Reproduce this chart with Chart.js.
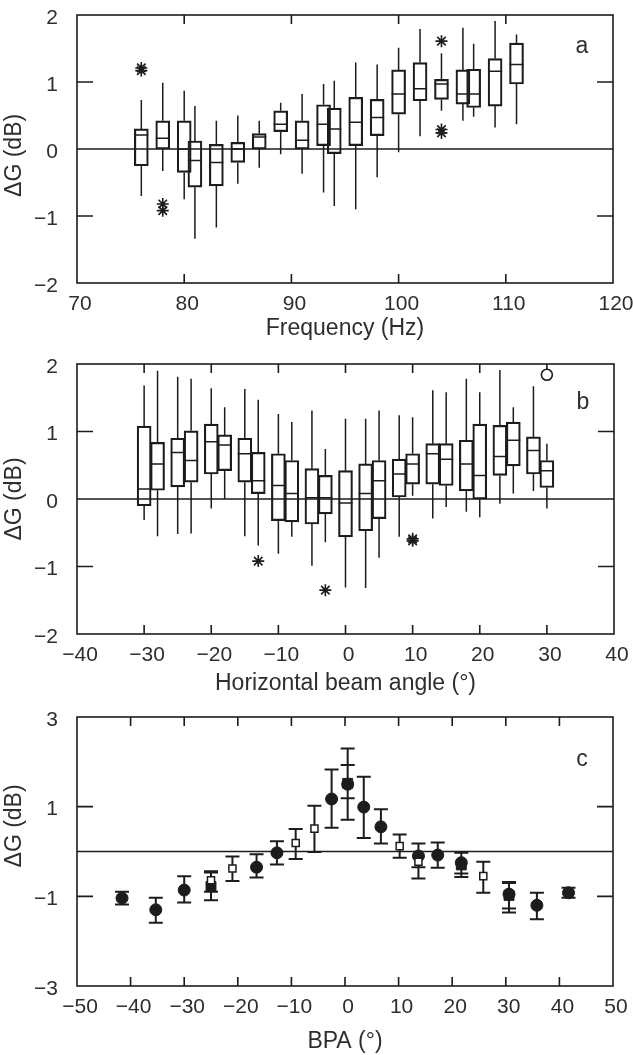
<!DOCTYPE html>
<html>
<head>
<meta charset="utf-8">
<script src="https://cdn.jsdelivr.net/npm/chart.js@4.4.0/dist/chart.umd.min.js"></script>
<style>
  body { margin: 0; background: #fff; }
  #wrap { position: relative; width: 633px; height: 1055px; }
  canvas { position: absolute; left: 0; }
</style>
</head>
<body>
<div id="wrap">
  <canvas id="chartA" width="633" height="342" style="top:0px"></canvas>
  <canvas id="chartB" width="633" height="355" style="top:342px"></canvas>
  <canvas id="chartC" width="633" height="358" style="top:697px"></canvas>
</div>
<script>
// ---- panel a: box plots vs frequency ----
const freqA = [76, 78, 80, 81, 83, 85, 87, 89, 91, 93, 94, 96, 98, 100, 102, 104, 106, 107, 109, 111];
const minA = [-0.70, -0.33, -0.75, -1.34, -1.17, -0.52, -0.28, -0.08, -0.37, -0.65, -0.85, -0.90, -0.42, -0.05, 0.19, 0.57, 0.42, 0.48, 0.32, 0.37];
const q1A = [-0.25, 0.00, -0.35, -0.57, -0.55, -0.20, 0.00, 0.26, 0.00, 0.05, -0.07, 0.05, 0.20, 0.52, 0.72, 0.74, 0.67, 0.62, 0.64, 0.97];
const medA = [0.21, 0.16, 0.00, -0.17, -0.20, 0.00, 0.18, 0.37, 0.13, 0.37, 0.30, 0.40, 0.47, 0.82, 0.90, 0.97, 0.82, 0.82, 1.16, 1.26];
const q3A = [0.30, 0.42, 0.42, 0.12, 0.07, 0.10, 0.23, 0.57, 0.42, 0.66, 0.61, 0.77, 0.74, 1.18, 1.29, 1.04, 1.18, 1.19, 1.35, 1.58];
const maxA = [0.73, 0.99, 0.87, 0.64, 0.42, 0.50, 0.42, 0.69, 0.82, 0.97, 1.02, 1.29, 1.26, 1.51, 1.79, 1.43, 1.81, 1.57, 1.91, 1.71];
const starXA = [76, 76, 78, 78, 104, 104, 104];
const starYA = [1.17, 1.21, -0.82, -0.92, 1.61, 0.29, 0.24];

// ---- panel b: box plots vs horizontal beam angle ----
const angB = [-30, -28, -25, -23, -20, -18, -15, -13, -10, -8, -5, -3, 0, 3, 5, 8, 10, 13, 15, 18, 20, 23, 25, 28, 30];
const minB = [-0.31, -0.55, -0.52, -0.51, -0.14, 0.00, -0.55, -0.69, -0.81, -0.56, -0.99, -0.64, -1.31, -1.32, -0.87, -0.56, 0.05, -0.29, -0.12, -0.19, -0.27, -0.07, 0.08, 0.12, -0.14];
const q1B = [-0.10, 0.13, 0.18, 0.25, 0.37, 0.42, 0.25, 0.08, -0.32, -0.34, -0.37, -0.22, -0.56, -0.47, -0.29, 0.03, 0.22, 0.22, 0.20, 0.12, 0.00, 0.35, 0.49, 0.37, 0.17];
const medB = [0.15, 0.52, 0.69, 0.57, 0.85, 0.80, 0.67, 0.27, 0.20, 0.08, 0.02, 0.02, -0.06, 0.08, 0.27, 0.37, 0.52, 0.67, 0.59, 0.52, 0.35, 0.63, 0.87, 0.72, 0.42];
const q3B = [1.08, 0.84, 0.90, 1.01, 1.11, 0.95, 0.90, 0.69, 0.67, 0.57, 0.45, 0.35, 0.42, 0.52, 0.57, 0.59, 0.67, 0.82, 0.82, 0.87, 1.11, 1.09, 1.14, 0.92, 0.57];
const maxB = [1.68, 1.90, 1.81, 1.78, 1.64, 1.36, 1.63, 1.47, 1.26, 1.14, 1.31, 0.74, 1.19, 1.19, 1.31, 1.24, 1.21, 1.61, 1.58, 1.78, 1.58, 1.91, 1.36, 1.67, 0.82];
const starXB = [-13, -3, 10, 10];
const starYB = [-0.92, -1.35, -0.59, -0.62];
const ringXB = [30];
const ringYB = [1.84];

// ---- panel c: means with error bars vs BPA ----
const dotX = [-41.6, -35.3, -30.0, -16.5, -12.7, -2.5, 0.5, 3.5, 6.7, 13.7, 17.3, 21.7, 30.6, 35.8, 41.7];
const dotY = [-1.04, -1.30, -0.86, -0.35, -0.03, 1.17, 1.50, 0.99, 0.55, -0.10, -0.08, -0.25, -0.95, -1.20, -0.92];
const dotHi = [-0.90, -1.03, -0.55, -0.06, 0.23, 1.83, 2.30, 1.67, 0.94, 0.18, 0.20, -0.03, -0.68, -0.92, -0.81];
const dotLo = [-1.18, -1.59, -1.14, -0.58, -0.29, 0.53, 0.71, 0.30, 0.18, -0.35, -0.36, -0.49, -1.27, -1.51, -1.03];
const blockX = [-25.0, 0.5, 21.7, 30.6];
const blockY = [-0.78, 1.52, -0.30, -0.98];
const blockHi = [-0.47, 1.93, -0.03, -0.70];
const blockLo = [-1.09, 1.19, -0.57, -1.36];
const openX = [-25.0, -21.0, -9.2, -5.7, 10.2, 13.7, 25.8];
const openY = [-0.64, -0.38, 0.19, 0.51, 0.12, -0.23, -0.55];
const openHi = [-0.44, -0.11, 0.50, 1.02, 0.38, 0.18, -0.23];
const openLo = [-0.90, -0.66, -0.17, -0.01, -0.14, -0.60, -0.92];

const INK = '#1c1c1c';
const TEXT = '#2e2e2e';
const FONT = '"Liberation Sans", Arial, Helvetica, sans-serif';

Chart.defaults.font.family = FONT;
Chart.defaults.color = TEXT;

const fmt = v => (v < 0 ? '\u2212' + Math.abs(v) : String(v));
const pts = (xs, ys) => xs.map((x, i) => ({ x: x, y: ys[i] }));

// frame, inward ticks, zero line and panel letter
const deco = {
  id: 'deco',
  beforeDatasetsDraw(chart, args, opts) {
    const { ctx, chartArea: a, scales: { x, y } } = chart;
    ctx.save();
    ctx.strokeStyle = INK;
    ctx.lineWidth = 1.6;
    ctx.strokeRect(a.left, a.top, a.right - a.left, a.bottom - a.top);
    ctx.beginPath();
    x.ticks.forEach(t => {
      if (t.value <= x.min || t.value >= x.max) return;
      const px = x.getPixelForValue(t.value);
      ctx.moveTo(px, a.bottom); ctx.lineTo(px, a.bottom - 9);
      ctx.moveTo(px, a.top); ctx.lineTo(px, a.top + 9);
    });
    y.ticks.forEach(t => {
      if (t.value <= y.min || t.value >= y.max) return;
      const py = y.getPixelForValue(t.value);
      ctx.moveTo(a.left, py); ctx.lineTo(a.left + 16, py);
      ctx.moveTo(a.right, py); ctx.lineTo(a.right - 16, py);
    });
    const z = y.getPixelForValue(0);
    ctx.moveTo(a.left, z); ctx.lineTo(a.right, z);
    ctx.stroke();
    ctx.fillStyle = TEXT;
    ctx.font = '23px ' + FONT;
    ctx.textAlign = 'center';
    ctx.textBaseline = 'middle';
    ctx.fillText(opts.letter, a.right - 31, a.top + opts.letterDy);
    ctx.restore();
  }
};

// whiskers and medians on top of the floating bars
const whiskers = {
  id: 'whiskers',
  afterDatasetsDraw(chart, args, opts) {
    if (!opts.lo) return;
    const { ctx, scales: { y } } = chart;
    const bars = chart.getDatasetMeta(0).data;
    ctx.save();
    ctx.strokeStyle = INK;
    ctx.lineWidth = 1.5;
    ctx.beginPath();
    bars.forEach((bar, i) => {
      const px = bar.x, w = bar.width / 2;
      ctx.moveTo(px, y.getPixelForValue(opts.q3[i])); ctx.lineTo(px, y.getPixelForValue(opts.hi[i]));
      ctx.moveTo(px, y.getPixelForValue(opts.q1[i])); ctx.lineTo(px, y.getPixelForValue(opts.lo[i]));
      const pm = y.getPixelForValue(opts.med[i]);
      ctx.moveTo(px - w, pm); ctx.lineTo(px + w, pm);
    });
    ctx.stroke();
    ctx.restore();
  }
};

// error bars for panel c
const errorBars = {
  id: 'errorBars',
  beforeDatasetsDraw(chart) {
    const { ctx, scales: { x, y } } = chart;
    ctx.save();
    ctx.strokeStyle = INK;
    ctx.lineWidth = 2;
    ctx.beginPath();
    chart.data.datasets.forEach(ds => {
      if (!ds.errHi) return;
      ds.data.forEach((p, i) => {
        const px = x.getPixelForValue(p.x);
        const ph = y.getPixelForValue(ds.errHi[i]);
        const pl = y.getPixelForValue(ds.errLo[i]);
        ctx.moveTo(px, ph); ctx.lineTo(px, pl);
        ctx.moveTo(px - 7, ph); ctx.lineTo(px + 7, ph);
        ctx.moveTo(px - 7, pl); ctx.lineTo(px + 7, pl);
      });
    });
    ctx.stroke();
    ctx.restore();
  }
};

function axes(xmin, xmax, xstep, xtitle, ymin, ymax, ystep, xHeight, ytitle) {
  return {
    x: {
      type: 'linear', min: xmin, max: xmax, offset: false,
      grid: { display: false }, border: { display: false },
      ticks: { stepSize: xstep, padding: 1, labelOffset: 3, font: { size: 21 }, callback: fmt, maxRotation: 0 },
      title: { display: true, text: xtitle, font: { size: 23 }, padding: { top: 0, bottom: 0 } },
      afterFit: s => { s.height = xHeight; s.paddingLeft = 0; s.paddingRight = 0; }
    },
    y: {
      type: 'linear', min: ymin, max: ymax,
      grid: { display: false }, border: { display: false },
      ticks: { stepSize: ystep, padding: 11, labelOffset: 3, font: { size: 21 }, callback: fmt },
      title: { display: true, text: ytitle, font: { size: 23 }, padding: { top: 1, bottom: 0 } },
      afterFit: s => { s.width = 77; s.paddingTop = 0; s.paddingBottom = 0; }
    }
  };
}

function boxChart(id, xs, lo, q1, med, q3, hi, extra, scales, pad, letter, letterDy) {
  return new Chart(document.getElementById(id), {
    type: 'bar',
    data: {
      datasets: [{
        type: 'bar',
        data: xs.map((x, i) => ({ x: x, y: [q1[i], q3[i]] })),
        backgroundColor: 'rgba(0,0,0,0)',
        borderColor: INK,
        borderWidth: 1.5,
        borderSkipped: false,
        barThickness: 14
      }].concat(extra)
    },
    options: {
      responsive: false,
      animation: false,
      events: [],
      layout: { padding: pad },
      plugins: {
        legend: { display: false },
        tooltip: { enabled: false },
        deco: { letter: letter, letterDy: letterDy },
        whiskers: { lo: lo, q1: q1, med: med, q3: q3, hi: hi }
      },
      scales: scales
    },
    plugins: [deco, whiskers]
  });
}

boxChart('chartA', freqA, minA, q1A, medA, q3A, maxA, [{
    type: 'scatter', data: pts(starXA, starYA),
    pointStyle: 'star', pointRadius: 6, borderColor: INK, borderWidth: 1.6
  }],
  axes(70, 120, 10, 'Frequency (Hz)', -2, 2, 1, 59, '\u0394G (dB)  '),
  { left: 0, right: 20, top: 15, bottom: 0 }, 'a', 32);

boxChart('chartB', angB, minB, q1B, medB, q3B, maxB, [{
    type: 'scatter', data: pts(starXB, starYB),
    pointStyle: 'star', pointRadius: 6, borderColor: INK, borderWidth: 1.6
  }, {
    type: 'scatter', data: pts(ringXB, ringYB),
    pointStyle: 'circle', pointRadius: 5.5, backgroundColor: '#fff', borderColor: INK, borderWidth: 1.6
  }],
  axes(-40, 40, 10, 'Horizontal beam angle (\u00b0)', -2, 2, 1, 63, '\u0394G (dB)'),
  { left: 0, right: 19, top: 22, bottom: 0 }, 'b', 39);

new Chart(document.getElementById('chartC'), {
  type: 'scatter',
  data: {
    datasets: [{
      data: pts(openX, openY), errHi: openHi, errLo: openLo,
      pointStyle: 'rect', pointRadius: 5, backgroundColor: '#fff', borderColor: INK, borderWidth: 1.5
    }, {
      data: pts(dotX, dotY), errHi: dotHi, errLo: dotLo,
      pointStyle: 'circle', pointRadius: 6, backgroundColor: INK, borderColor: INK, borderWidth: 1
    }, {
      data: pts(blockX, blockY), errHi: blockHi, errLo: blockLo,
      pointStyle: 'rect', pointRadius: 7, backgroundColor: INK, borderColor: INK, borderWidth: 1
    }]
  },
  options: {
    responsive: false,
    animation: false,
    events: [],
    layout: { padding: { left: 0, right: 20, top: 20, bottom: 0 } },
    plugins: {
      legend: { display: false },
      tooltip: { enabled: false },
      deco: { letter: 'c', letterDy: 43 }
    },
    scales: axes(-50, 50, 10, 'BPA (\u00b0)', -3, 3, 2, 69, '        \u0394G (dB)')
  },
  plugins: [deco, errorBars]
});
</script>
</body>
</html>
